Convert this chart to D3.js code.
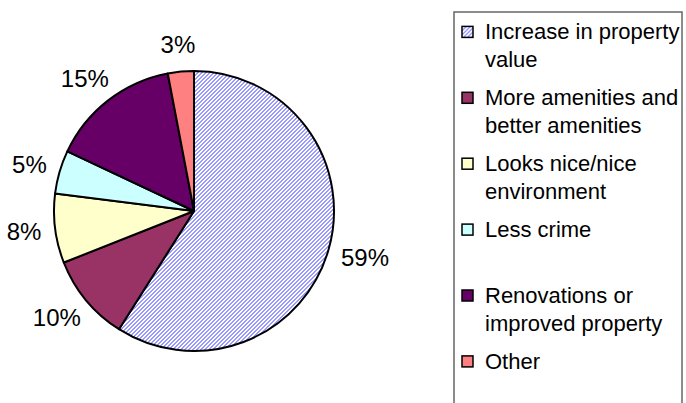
<!DOCTYPE html>
<html><head><meta charset="utf-8">
<script src="https://cdn.jsdelivr.net/npm/d3@7"></script>
<style>html,body{margin:0;padding:0;background:#fff;overflow:hidden}</style>
</head><body>
<svg id="c" width="686" height="403"></svg>
<script>
const categories = ["Increase in property value","More amenities and better amenities","Looks nice/nice environment","Less crime","Renovations or improved property","Other"];
const values = [59, 10, 8, 5, 15, 3];
const labels = ["59%","10%","8%","5%","15%","3%"];
const legendLines = [["Increase in property","value"],["More amenities and","better amenities"],["Looks nice/nice","environment"],["Less crime"],["Renovations or","improved property"],["Other"]];
const colors = ["url(#hatch)","#993366","#FFFFCC","#CCFFFF","#660066","#FF8080"];

const svg = d3.select("#c");
const defs = svg.append("defs");
const pat = defs.append("pattern").attr("id","hatch").attr("patternUnits","userSpaceOnUse")
  .attr("width",4).attr("height",4);
pat.append("rect").attr("width",4).attr("height",4).attr("fill","#ffffff");
const px = [];
for (let y = 0; y < 4; y++) for (let x = 0; x < 4; x++) if ((x + y) % 4 < 2) px.push([x, y]);
pat.selectAll("rect.p").data(px).join("rect").attr("class","p")
  .attr("x", d => d[0]).attr("y", d => d[1]).attr("width",1).attr("height",1)
  .attr("fill","#9999FF").attr("shape-rendering","crispEdges");

const font = "'Liberation Sans', Arial, sans-serif";
const cx = 194, cy = 211, r = 140;
const pie = d3.pie().sort(null).value(d => d)(values);
const arc = d3.arc().innerRadius(0).outerRadius(r);
const labelArc = d3.arc().innerRadius(154).outerRadius(154);

const g = svg.append("g").attr("transform", `translate(${cx},${cy})`);
g.selectAll("path").data(pie).join("path")
  .attr("d", arc).attr("fill", (d,i) => colors[i])
  .attr("stroke","#000").attr("stroke-width",2).attr("stroke-linejoin","round");

const lblH = 26;
g.selectAll("text").data(pie).join("text")
  .attr("text-anchor","middle").attr("dy","0.35em")
  .attr("font-family", font).attr("font-size", 24).attr("fill","#000")
  .text((d,i) => labels[i])
  .attr("transform", function(d){
    const [x, y] = labelArc.centroid(d);
    const a = (d.startAngle + d.endAngle) / 2;
    const w = this.getComputedTextLength();
    return `translate(${x + Math.sin(a) * w / 2},${y - Math.cos(a) * lblH / 2})`;
  });

// legend
const lg = svg.append("g");
lg.append("rect").attr("x",454).attr("y",12).attr("width",228).attr("height",420)
  .attr("fill","#fff").attr("stroke","#666").attr("stroke-width",1.5);
const slot = d3.scaleLinear().domain([0,1]).range([39.4, 105.3]);
const items = lg.selectAll("g.item").data(categories).join("g").attr("class","item")
  .attr("transform", (d,i) => `translate(0,${slot(i)})`);
items.append("rect").attr("x",462).attr("y",-13).attr("width",11).attr("height",11)
  .attr("fill",(d,i)=>colors[i]).attr("stroke","#000").attr("stroke-width",1.5);
items.each(function(d,i){
  const t = d3.select(this).append("text").attr("font-family",font).attr("font-size",22).attr("fill","#000");
  legendLines[i].forEach((ln,k) => t.append("tspan").attr("x",485).attr("y",k*27.5).text(ln));
});
</script>
</body></html>
